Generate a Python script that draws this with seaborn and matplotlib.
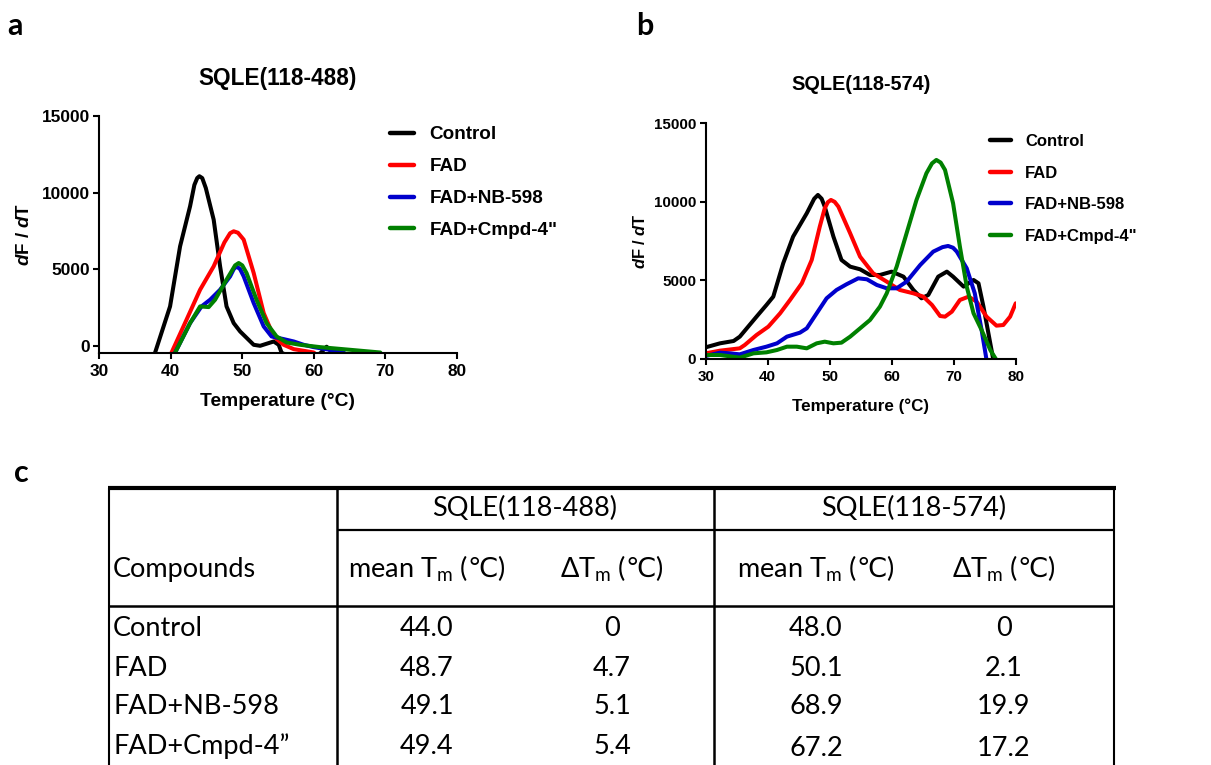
import numpy as np
import pandas as pd
import matplotlib
matplotlib.use("Agg")
import matplotlib.pyplot as plt
import seaborn as sns

# ---------------- data ----------------
series_names = ["Control", "FAD", "FAD+NB-598", "FAD+Cmpd-4\""]
series_colors = ["#000000", "#FF0000", "#0000CC", "#008000"]

# Panel a : SQLE(118-488)
a_ctrl_T = [37.3, 37.8, 39.9, 41.3, 42.7, 43.3, 43.7, 44.0, 44.4, 44.9, 46.0, 46.9, 47.8, 48.8, 49.7,
            51.6, 52.5, 54.4, 55.1, 55.5, 57.0, 60.0, 61.0, 61.8, 62.6, 63.5]
a_ctrl_V = [-1500, -450, 2571, 6490, 9108, 10500, 10950, 11070, 10950, 10300, 8236, 5186, 2571, 1482, 937,
            65, 0, 283, 65, -450, -800, -800, -450, -60, -450, -800]
a_fad_T = [39.5, 40.1, 42.2, 44.1, 46.0, 47.5, 48.3, 48.8, 49.4, 50.2, 51.6, 53.0, 54.4, 55.8, 57.2, 60.0, 61.0]
a_fad_V = [-1500, -450, 1700, 3660, 5186, 6750, 7350, 7474, 7380, 6929, 4750, 2135, 610, 65, -218, -436, -900]
a_nb_T = [40.0, 40.6, 42.7, 44.3, 45.5, 46.9, 48.3, 48.8, 49.2, 49.7, 50.2, 51.6, 53.0, 54.1, 55.8,
          57.2, 58.6, 60.0, 62.8, 64.2, 65.0]
a_nb_V = [-1500, -450, 1482, 2571, 3007, 3660, 4532, 5000, 5186, 5000, 4532, 2789, 1264, 610, 436,
          283, 65, -87, -305, -436, -900]
a_cm_T = [40.0, 40.6, 42.7, 44.1, 45.3, 46.2, 47.8, 49.0, 49.5, 50.0, 50.6, 52.0, 53.4, 54.8, 56.2,
          58.1, 60.9, 65.1, 69.3, 70.0]
a_cm_V = [-1500, -450, 1482, 2571, 2528, 3007, 4314, 5250, 5404, 5250, 4750, 3007, 1482, 610, 218,
          65, -87, -261, -436, -900]

# Panel b : SQLE(118-574)
b_ctrl_T = [30, 32.3, 34.5, 35.5, 38.2, 39.8, 40.9, 42.5, 44.1, 46.3, 47.5, 48.1, 48.7, 49.2, 50.6,
            51.9, 53.3, 54.9, 56.5, 58.1, 60.0, 61.9, 63.5, 64.8, 65.9, 67.5, 68.9, 69.9, 71.6, 73.2,
            74.0, 74.8, 75.9, 76.4, 77.0]
b_ctrl_V = [743, 997, 1146, 1422, 2695, 3438, 3968, 6090, 7788, 9273, 10200, 10440, 10200, 9697, 7788,
            6302, 5878, 5708, 5347, 5347, 5560, 5241, 4393, 3862, 4074, 5241, 5560, 5241, 4605, 5029,
            4817, 3332, 997, -64, -1500]
b_fad_T = [30, 32.3, 35.5, 36.3, 38.2, 40.1, 42.0, 43.6, 45.5, 47.1, 48.4, 49.2, 49.7, 50.2, 50.8,
           51.4, 53.3, 54.9, 57.0, 59.2, 61.3, 63.5, 65.1, 66.5, 67.8, 68.6, 69.7, 71.0, 72.4, 73.7,
           75.3, 76.9, 78.0, 79.1, 80.0]
b_fad_V = [360, 530, 679, 891, 1528, 2058, 2907, 3756, 4817, 6302, 8424, 9591, 9980, 10122, 10000,
           9697, 8000, 6514, 5454, 4923, 4393, 4180, 3968, 3438, 2737, 2695, 3013, 3756, 3968, 3650,
           2695, 2122, 2164, 2695, 3544]
b_nb_T = [30, 32.3, 33.9, 35.5, 37.7, 39.8, 41.5, 43.1, 45.2, 46.3, 47.9, 49.5, 51.1, 52.7, 54.6,
          56.0, 57.6, 59.2, 60.8, 62.4, 64.6, 66.7, 68.2, 69.1, 69.9, 70.5, 72.1, 73.4, 74.5, 75.3, 76.0]
b_nb_V = [191, 403, 360, 297, 573, 785, 997, 1422, 1676, 1952, 2907, 3862, 4393, 4753, 5135,
          5072, 4711, 4499, 4499, 4923, 5984, 6833, 7120, 7194, 7080, 6833, 5772, 4180, 1846, -64, -1500]
b_cm_T = [30, 32.3, 35.5, 37.7, 39.8, 41.5, 43.1, 44.7, 46.3, 47.9, 49.2, 50.6, 51.9, 53.3, 54.9,
          56.5, 58.1, 59.2, 60.8, 62.4, 64.0, 65.6, 66.5, 67.2, 67.9, 68.6, 69.9, 71.0, 72.1, 73.2,
          74.5, 75.9, 76.9, 77.5]
b_cm_V = [255, 255, 85, 360, 424, 573, 785, 785, 679, 997, 1103, 997, 1040, 1422, 1952,
          2483, 3332, 4180, 5878, 8000, 10122, 11820, 12450, 12668, 12500, 12032, 9910, 7151, 4605, 2907,
          1846, 573, -64, -1500]

# Table
table_groups = ["SQLE(118-488)", "SQLE(118-574)"]
table_compounds = ["Control", "FAD", "FAD+NB-598", "FAD+Cmpd-4\u201d"]
tm_488 = ["44.0", "48.7", "49.1", "49.4"]
dtm_488 = ["0", "4.7", "5.1", "5.4"]
tm_574 = ["48.0", "50.1", "68.9", "67.2"]
dtm_574 = ["0", "2.1", "19.9", "17.2"]

# ---------------- style ----------------
sns.set_theme(style="ticks", rc={"axes.edgecolor": "black", "xtick.color": "black",
                                 "ytick.color": "black", "text.color": "black",
                                 "axes.labelcolor": "black"})
plt.rcParams["font.family"] = ["Liberation Sans", "DejaVu Sans"]
plt.rcParams["mathtext.fontset"] = "custom"
plt.rcParams["mathtext.it"] = "Liberation Sans:italic:bold"
plt.rcParams["mathtext.rm"] = "Liberation Sans:bold"
plt.rcParams["mathtext.bf"] = "Liberation Sans:bold"
plt.rcParams["mathtext.sf"] = "DejaVu Sans"

W, H = 1211, 765
fig = plt.figure(figsize=(W / 100, H / 100), dpi=100)


def long_df(Ts, Vs):
    frames = []
    for name, T, V in zip(series_names, Ts, Vs):
        frames.append(pd.DataFrame({"T": T, "V": V, "series": name}))
    return pd.concat(frames, ignore_index=True)


def make_panel(rect, df, ylim, title, scale, legend_anchor, lab_spacing, title_y, xlab_y, ylab_x):
    ax = fig.add_axes(rect)
    sns.lineplot(data=df, x="T", y="V", hue="series", hue_order=series_names,
                 palette=series_colors, sort=False, estimator=None, lw=2.9, legend=False, ax=ax)
    for ln in ax.get_lines():
        ln.set_solid_joinstyle("round")
        ln.set_solid_capstyle("round")
    ax.set_xlim(30, 80)
    ax.set_ylim(*ylim)
    ax.set_xticks([30, 40, 50, 60, 70, 80])
    ax.set_yticks([0, 5000, 10000, 15000])
    sns.despine(ax=ax)
    for s in ["left", "bottom"]:
        ax.spines[s].set_linewidth(1.5)
    ax.tick_params(axis="both", length=4.3, width=1.5, direction="out",
                   labelsize=12.4 * scale, color="black")
    ax.tick_params(axis="y", pad=2.5)
    ax.tick_params(axis="x", pad=3.5)
    for lab in ax.get_xticklabels() + ax.get_yticklabels():
        lab.set_fontweight("bold")
    ax.set_xlabel("Temperature (\u00b0C)", fontsize=13.9 * scale, fontweight="bold")
    ax.xaxis.set_label_coords(0.5, xlab_y)
    ax.xaxis.label.set_va("center")
    ax.set_ylabel(r"$\mathit{d}$F / $\mathit{d}$T", fontsize=13.5 * scale, fontweight="bold")
    ax.yaxis.set_label_coords(ylab_x, 0.5)
    ax.yaxis.label.set_va("center")
    ax.set_title(title, fontsize=16.3 * scale, fontweight="bold", y=title_y, va="center", pad=0)
    handles = ax.get_lines()[:4]
    leg = ax.legend(handles, series_names, loc="upper left", bbox_to_anchor=legend_anchor,
                    bbox_transform=fig.transFigure, frameon=False, borderpad=0, borderaxespad=0,
                    handlelength=1.25, handletextpad=0.85, labelspacing=lab_spacing,
                    prop={"size": 13.6 * scale, "weight": "bold"})
    for h in leg.get_lines():
        h.set_linewidth(3.2)
    return ax


# panel a
df_a = long_df([a_ctrl_T, a_fad_T, a_nb_T, a_cm_T], [a_ctrl_V, a_fad_V, a_nb_V, a_cm_V])
ax_a = make_panel([99.3 / W, 1 - 352.7 / H, 357.4 / W, 236.7 / H], df_a, (-450, 15000),
                  "SQLE(118-488)", 1.0, (390 / W, 1 - 126.0 / H), 0.78, 1.16, -0.207, -0.208)

# panel b
df_b = long_df([b_ctrl_T, b_fad_T, b_nb_T, b_cm_T], [b_ctrl_V, b_fad_V, b_nb_V, b_cm_V])
ax_b = make_panel([705.7 / W, 1 - 359 / H, 310 / W, 235.7 / H], df_b, (0, 15000),
                  "SQLE(118-574)", 0.88, (990 / W, 1 - 134.3 / H), 0.99, 1.1625, -0.202, -0.212)

# ---------------- table (pixel space overlay) ----------------
axt = fig.add_axes([0, 0, 1, 1], zorder=-1)
axt.set_xlim(0, W)
axt.set_ylim(H, 0)
axt.axis("off")

lc = "black"
axt.plot([107.5, 1116], [488.3, 488.3], color=lc, lw=3.0, solid_capstyle="butt")
for x, lw in [(109.3, 1.5), (336.5, 1.8), (713.5, 1.8), (1114, 1.5)]:
    axt.plot([x, x], [488.3, H], color=lc, lw=lw, solid_capstyle="butt")
axt.plot([336.5, 1114], [530, 530], color=lc, lw=1.6, solid_capstyle="butt")
axt.plot([109.3, 1114], [606, 606], color=lc, lw=1.8, solid_capstyle="butt")

tfont = dict(family=["Lato", "DejaVu Sans"], fontsize=19.5, fontweight="normal", color="black")
group_cx = [525, 913.5]
for g, cx in zip(table_groups, group_cx):
    axt.text(cx, 508, g, ha="center", va="center", **tfont)

hy = 569
axt.text(113, hy, "Compounds", ha="left", va="center", **tfont)
col_cx = [427, 612, 816, 1004]
head = ["mean T$_\\mathregular{m}$ ($\\mathsf{\u2103}$)", "\u0394T$_\\mathregular{m}$ ($\\mathsf{\u2103}$)"] * 2
for h_, cx in zip(head, col_cx):
    axt.text(cx, hy, h_, ha="center", va="center", **tfont)

row_y = [629, 668, 707, 746]
for i, name in enumerate(table_compounds):
    y = row_y[i]
    axt.text(113, y, name, ha="left", va="center", **tfont)
    for cx, col in zip(col_cx, [tm_488, dtm_488, tm_574, dtm_574]):
        dy = 3 if (i == 3 and cx > 700) else 0
        axt.text(cx, y + dy, col[i], ha="center", va="center", **tfont)

# panel letters
lfont = dict(family=["Lato", "DejaVu Sans"], fontsize=22, fontweight="bold", color="black")
fig.text(7 / W, 1 - 35 / H, "a", ha="left", va="baseline", **lfont)
fig.text(636 / W, 1 - 35 / H, "b", ha="left", va="baseline", **lfont)
fig.text(14 / W, 1 - 482 / H, "c", ha="left", va="baseline", **lfont)

fig.savefig("out.png", dpi=100)
